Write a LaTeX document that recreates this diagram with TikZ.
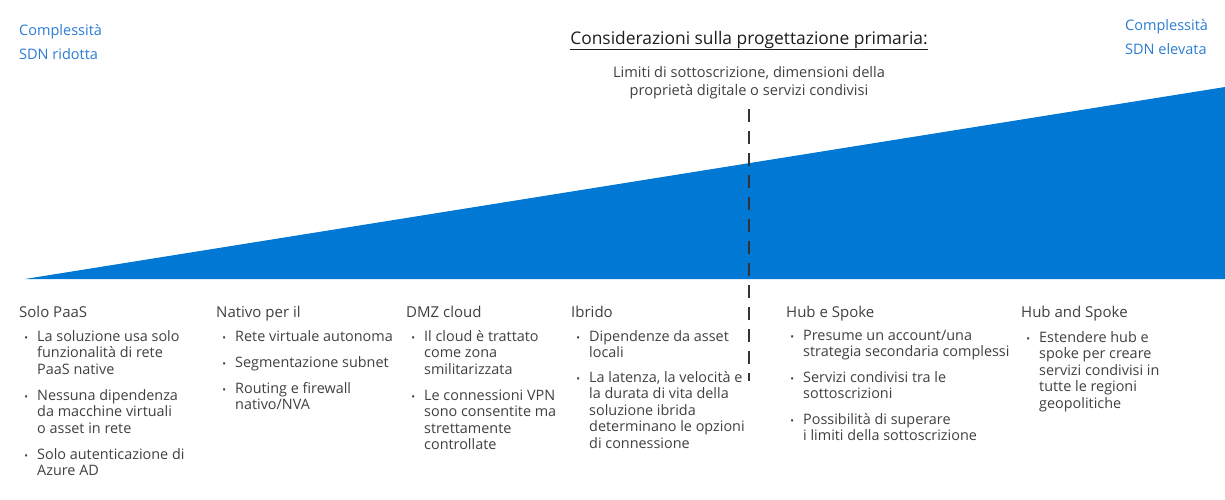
\documentclass[tikz,border=0pt]{standalone}
\usepackage{fontspec}
\setmainfont{Open Sans}
\definecolor{triblue}{HTML}{0078D4}
\definecolor{lblblue}{HTML}{2B7CD3}
\definecolor{txtgray}{HTML}{404040}
\definecolor{titlegray}{HTML}{1E1E1E}
\definecolor{dashgray}{HTML}{333333}
\newcommand\bul{\llap{{\fontsize{10}{10}\selectfont\textbullet}\hspace{9pt}}\strut}
\begin{document}
\begin{tikzpicture}[x=1pt,y=-1pt,
  sidelbl/.style={anchor=north west, inner sep=0, align=left, text=lblblue, yshift=16.8pt, font=\fontsize{14.5}{24}\selectfont},
  headlbl/.style={anchor=base west, inner sep=0, text=txtgray, font=\fontsize{15}{18}\selectfont},
  itembox/.style={anchor=north west, inner sep=0, align=left, text=txtgray, yshift=11.55pt, font=\fontsize{14.4}{16.5}\selectfont},
  titlelbl/.style={anchor=base, inner sep=0, text=titlegray, font=\fontsize{17.4}{20}\selectfont},
  sublbl/.style={anchor=north, inner sep=0, align=center, text=txtgray, yshift=12.6pt, font=\fontsize{14.6}{18}\selectfont},
  divider/.style={draw=dashgray, line width=2.5pt, dash pattern=on 13pt off 9pt}]
\useasboundingbox (0,0) rectangle (1225,499);

% wedge
\coordinate (wl) at (25,279);
\coordinate (wtr) at (1225,87);
\coordinate (wbr) at (1225,279);
\fill[triblue] (wl) -- (wtr) -- (wbr) -- cycle;

% divider
\coordinate (dtop) at (749,109);
\coordinate (dbot) at (749,381);
\draw[divider] (dtop) -- (dbot);

% side labels
\node[sidelbl] (low) at (19,35) {\strut Complessità\\SDN ridotta};
\node[sidelbl] (high) at (1125,30) {\strut Complessità\\SDN elevata};

% title
\node[titlelbl] (title) at (749,44) {\underline{Considerazioni sulla progettazione primaria:}};
\node[sublbl] (sub) at (749,77) {\strut Limiti di sottoscrizione, dimensioni della\\proprietà digitale o servizi condivisi};

% column 1
\node[headlbl] (h1) at (19,317) {Solo PaaS};
\node[itembox] (c1a) at (37,341) {\bul La soluzione usa solo\\funzionalità di rete\\PaaS native};
\node[itembox] (c1b) at (37,400) {\bul Nessuna dipendenza\\da macchine virtuali\\o asset in rete};
\node[itembox] (c1c) at (37,459) {\bul Solo autenticazione di\\Azure AD};

% column 2
\node[headlbl] (h2) at (216,317) {Nativo per il};
\node[itembox] (c2a) at (235,341) {\bul Rete virtuale autonoma};
\node[itembox] (c2b) at (235,367) {\bul Segmentazione subnet};
\node[itembox] (c2c) at (235,393) {\bul Routing e firewall\\nativo/NVA};

% column 3
\node[headlbl] (h3) at (406,317) {DMZ cloud};
\node[itembox] (c3a) at (424,341) {\bul Il cloud è trattato\\come zona\\smilitarizzata};
\node[itembox] (c3b) at (424,400) {\bul Le connessioni VPN\\sono consentite ma\\strettamente\\controllate};

% column 4
\node[headlbl] (h4) at (571,317) {Ibrido};
\node[itembox] (c4a) at (589,341) {\bul Dipendenze da asset\\locali};
\node[itembox] (c4b) at (589,382) {\bul La latenza, la velocità e\\la durata di vita della\\soluzione ibrida\\determinano le opzioni\\di connessione};

% column 5
\node[headlbl] (h5) at (786,317) {Hub e Spoke};
\node[itembox] (c5a) at (803,340) {\bul Presume un account/una\\strategia secondaria complessi};
\node[itembox] (c5b) at (803,382) {\bul Servizi condivisi tra le\\sottoscrizioni};
\node[itembox] (c5c) at (803,424) {\bul Possibilità di superare\\i limiti della sottoscrizione};

% column 6
\node[headlbl] (h6) at (1021,317) {Hub and Spoke};
\node[itembox] (c6a) at (1039,342) {\bul Estendere hub e\\spoke per creare\\servizi condivisi in\\tutte le regioni\\geopolitiche};
\end{tikzpicture}
\end{document}
